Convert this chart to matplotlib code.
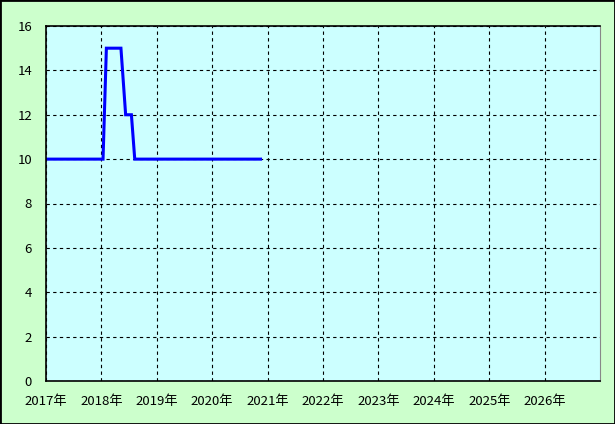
import matplotlib
matplotlib.use("Agg")
import matplotlib.pyplot as plt
from matplotlib.patches import Rectangle
import pandas as pd

plt.rcParams['font.family'] = ['Noto Sans CJK JP', 'DejaVu Sans']

# データ
dates = pd.to_datetime([
    "2017-01-01", "2018-01-12", "2018-02-03", "2018-05-10",
    "2018-06-10", "2018-07-18", "2018-08-09", "2020-11-15",
])
values = [10, 10, 15, 15, 12, 12, 10, 10]

years = list(range(2017, 2027))
year_labels = [f"{y}年" for y in years]

fig = plt.figure(figsize=(6.15, 4.24), dpi=100, facecolor="#CCFFCC")
ax = fig.add_axes([46 / 615, 43 / 424, 554 / 615, 355 / 424])
ax.set_facecolor("#CCFFFF")

ax.plot(dates, values, color="#0000FF", linewidth=2.2, solid_joinstyle="miter")

ax.set_xlim(pd.Timestamp("2017-01-01"), pd.Timestamp("2027-01-01"))
ax.set_ylim(0, 16)
ax.set_yticks(range(0, 17, 2))
ax.set_xticks([pd.Timestamp(f"{y}-01-01") for y in years])
ax.set_xticklabels(year_labels)

ax.grid(True, color="black", linestyle=(0, (3, 3)), linewidth=0.8)
ax.tick_params(length=0, labelsize=9.5, colors="black")
ax.tick_params(axis="x", pad=10)
ax.tick_params(axis="y", pad=10)

for s in ["left", "bottom", "top"]:
    ax.spines[s].set_color("black")
    ax.spines[s].set_linewidth(1.2)
ax.spines["right"].set_color("#888888")

fig.patches.append(Rectangle((0, 0), 1, 1, transform=fig.transFigure,
                             fill=False, edgecolor="black", linewidth=2))

fig.savefig("out.png", dpi=100, facecolor=fig.get_facecolor())
